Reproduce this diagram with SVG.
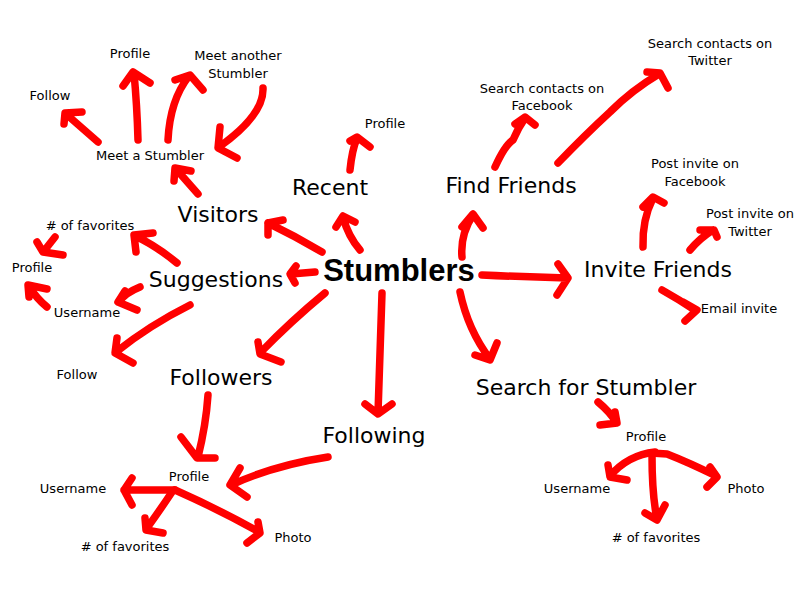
<svg xmlns="http://www.w3.org/2000/svg" width="800" height="600" viewBox="0 0 800 600">
<style>
.bg{fill:#ffffff}
text{font-family:"DejaVu Sans","Liberation Sans",sans-serif;fill:#000;text-anchor:middle}
.big{font-size:22px}
.small{font-size:13px}
.root{font-family:"Liberation Sans",Arial,sans-serif;font-weight:bold;font-size:31px}
.arr{fill:none;stroke:#ff0000;stroke-width:7.5;stroke-linecap:round;stroke-linejoin:round}
</style>
<rect class="bg" x="0" y="0" width="800" height="600"/>
<g id="connectors">
<!-- central -->
<path class="arr" d="M322,252 Q295,236 268,223 M283,220 L268,223 L268,235"/>
<path class="arr" d="M360,250 Q348,236 343,217 M336,227 L343,216 L355,222"/>
<path class="arr" d="M315,272 L291,274 M296,266 L290,274 L295,283"/>
<path class="arr" d="M325,293 Q290,322 261,352 M258,342 L260,354 L281,362"/>
<path class="arr" d="M382,293 Q380,350 378,413 M365,404 L378,414 L392,404"/>
<path class="arr" d="M462,257 Q460,235 473,215 M462,227 L473,214 L483,228"/>
<path class="arr" d="M460,292 Q468,330 490,359 M475,355 L490,360 L497,343"/>
<path class="arr" d="M482,275 Q525,277 567,278 M558,264 L568,278 L557,295"/>
<!-- visitors branch -->
<path class="arr" d="M198,194 L176,169 M174,181 L175,168 L191,171"/>
<path class="arr" d="M98,142 L66,114 M82,112 L65,113 L64,124"/>
<path class="arr" d="M138,140 Q137,105 134,73 M123,86 L133,72 L150,83"/>
<path class="arr" d="M168,140 Q170,100 189,76 M175,80 L190,75 L203,90"/>
<path class="arr" d="M263,88 Q264,115 219,147 M220,127 L218,148 L237,158"/>
<!-- recent -->
<path class="arr" d="M350,170 Q352,150 357,138 M350,141 L357,137 L370,147"/>
<!-- find friends -->
<path class="arr" d="M495,167 Q505,145 513,140 Q518,128 525,118 M515,124 L525,117 L535,125"/>
<path class="arr" d="M558,163 Q585,135 610,112 Q632,90 659,74 M647,72 L660,73 L668,88"/>
<!-- invite friends -->
<path class="arr" d="M643,247 Q642,220 653,198 M643,207 L653,197 L664,203"/>
<path class="arr" d="M690,250 Q700,238 713,230 M700,230 L714,230 L717,237"/>
<path class="arr" d="M662,290 Q680,300 696,311 M683,302 L697,310 L685,321"/>
<!-- suggestions -->
<path class="arr" d="M177,263 Q155,245 135,236 M153,233 L134,235 L136,252"/>
<path class="arr" d="M140,287 Q125,293 119,302 M125,291 L118,302 L137,310"/>
<path class="arr" d="M190,305 Q150,325 116,352 M117,338 L115,353 L133,363"/>
<path class="arr" d="M55,237 L44,251 M37,242 L43,252 L63,255"/>
<path class="arr" d="M47,307 Q36,298 29,286 M29,297 L28,285 L47,289"/>
<!-- followers / following -->
<path class="arr" d="M208,395 Q206,425 198,457 M181,437 L197,458 L215,458"/>
<path class="arr" d="M328,457 Q275,465 231,485 M240,468 L230,485 L247,497"/>
<path class="arr" d="M175,490 L124,490 M132,478 L124,490 L132,505"/>
<path class="arr" d="M172,492 Q160,510 147,528 M145,518 L146,530 L163,533"/>
<path class="arr" d="M175,490 Q220,510 259,532 M258,522 L260,533 L247,543"/>
<!-- search for stumbler -->
<path class="arr" d="M598,402 Q610,412 616,422 M615,412 L617,423 L600,425"/>
<path class="arr" d="M655,452 Q628,455 610,476 M608,465 L610,477 L627,480"/>
<path class="arr" d="M651,453 L667,454 Q690,463 716,476 M710,467 L717,477 L707,487"/>
<path class="arr" d="M652,455 Q652,495 657,519 M645,513 L657,520 L665,505"/>
</g>
<g id="n-stumblers"><text class="root" x="399" y="281">Stumblers</text></g>
<g id="n-recent"><text class="big" x="330" y="195">Recent</text></g>
<g id="n-find-friends"><text class="big" x="511" y="193">Find Friends</text></g>
<g id="n-invite-friends"><text class="big" x="658" y="277">Invite Friends</text></g>
<g id="n-search"><text class="big" x="586" y="395">Search for Stumbler</text></g>
<g id="n-following"><text class="big" x="374" y="443">Following</text></g>
<g id="n-followers"><text class="big" x="221" y="385">Followers</text></g>
<g id="n-suggestions"><text class="big" x="216" y="287">Suggestions</text></g>
<g id="n-visitors"><text class="big" x="218" y="222">Visitors</text></g>
<g id="n-meet"><text class="small" x="150" y="160">Meet a Stumbler</text></g>
<g id="n-meet-profile"><text class="small" x="130" y="58">Profile</text></g>
<g id="n-meet-another"><text class="small" x="238" y="60">Meet another</text><text class="small" x="238" y="78">Stumbler</text></g>
<g id="n-meet-follow"><text class="small" x="50" y="100">Follow</text></g>
<g id="n-recent-profile"><text class="small" x="385" y="128">Profile</text></g>
<g id="n-fb-contacts"><text class="small" x="542" y="93">Search contacts on</text><text class="small" x="542" y="110">Facebook</text></g>
<g id="n-tw-contacts"><text class="small" x="710" y="48">Search contacts on</text><text class="small" x="710" y="65">Twitter</text></g>
<g id="n-fb-invite"><text class="small" x="695" y="168">Post invite on</text><text class="small" x="695" y="186">Facebook</text></g>
<g id="n-tw-invite"><text class="small" x="750" y="218">Post invite on</text><text class="small" x="750" y="236">Twitter</text></g>
<g id="n-email"><text class="small" x="739" y="313">Email invite</text></g>
<g id="n-sugg-fav"><text class="small" x="90" y="230"># of favorites</text></g>
<g id="n-sugg-profile"><text class="small" x="32" y="272">Profile</text></g>
<g id="n-sugg-username"><text class="small" x="87" y="317">Username</text></g>
<g id="n-sugg-follow"><text class="small" x="77" y="379">Follow</text></g>
<g id="n-fol-profile"><text class="small" x="189" y="481">Profile</text></g>
<g id="n-fol-username"><text class="small" x="73" y="493">Username</text></g>
<g id="n-fol-fav"><text class="small" x="125" y="551"># of favorites</text></g>
<g id="n-fol-photo"><text class="small" x="293" y="542">Photo</text></g>
<g id="n-s-profile"><text class="small" x="646" y="441">Profile</text></g>
<g id="n-s-username"><text class="small" x="577" y="493">Username</text></g>
<g id="n-s-photo"><text class="small" x="746" y="493">Photo</text></g>
<g id="n-s-fav"><text class="small" x="656" y="542"># of favorites</text></g>
</svg>
